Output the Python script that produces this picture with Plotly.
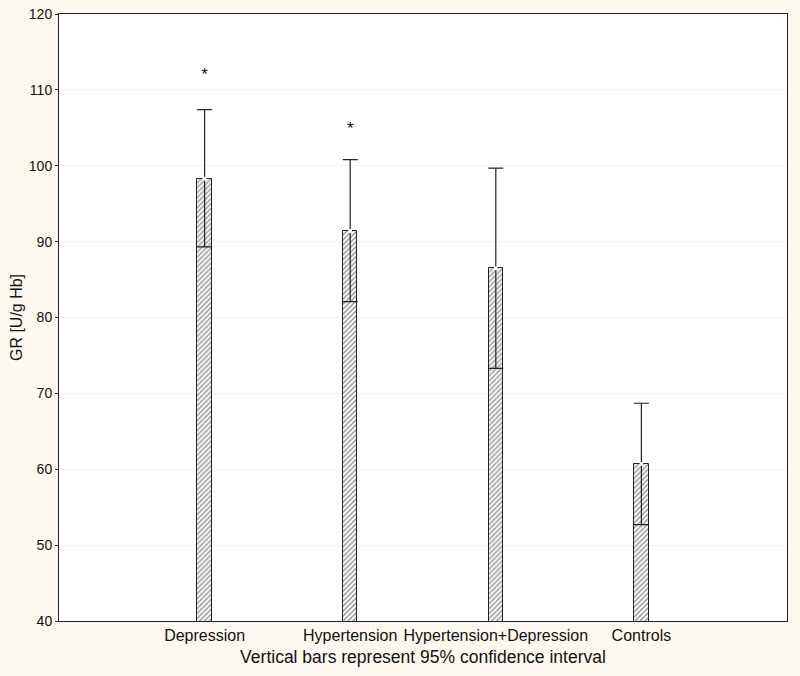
import plotly.graph_objects as go

categories = ["Depression", "Hypertension", "Hypertension+Depression", "Controls"]
means = [98.3, 91.4, 86.5, 60.7]
upper_ci = [107.4, 100.8, 99.7, 68.7]
lower_ci = [89.3, 82.1, 73.3, 52.7]
star_labels = ["*", "*", "", ""]
star_y = [111.9, 104.8, None, None]
y_ticks = [40, 50, 60, 70, 80, 90, 100, 110, 120]

xpos = list(range(len(categories)))
err_plus = [u - m for u, m in zip(upper_ci, means)]
err_minus = [m - l for m, l in zip(means, lower_ci)]

FONT = "Liberation Sans, Arial, sans-serif"

fig = go.Figure()
fig.add_trace(go.Bar(
    x=xpos, y=means, width=0.1,
    marker=dict(color="white", line=dict(color="#222222", width=1),
                pattern=dict(shape="/", fgcolor="#3a3a3a", bgcolor="white", size=3.5, solidity=0.45)),
    error_y=dict(type="data", symmetric=False, array=err_plus, arrayminus=err_minus,
                 color="#222222", thickness=1.2, width=7.5),
    showlegend=False, hoverinfo="skip",
))
fig.add_trace(go.Scatter(
    x=xpos, y=means, mode="markers",
    marker=dict(color="white", size=4, line=dict(width=0)),
    showlegend=False, hoverinfo="skip",
))
fig.add_trace(go.Scatter(
    x=xpos, y=star_y, mode="text", text=star_labels,
    textfont=dict(family=FONT, size=17, color="#111111"),
    showlegend=False, hoverinfo="skip",
))

fig.update_layout(
    width=800, height=676,
    margin=dict(l=59, r=13, t=14, b=55, autoexpand=False),
    paper_bgcolor="#FDF9F0", plot_bgcolor="white",
    font=dict(family=FONT, size=14, color="#111111"),
    xaxis=dict(range=[-1, 4], tickvals=xpos, ticktext=categories, showgrid=False,
               showline=True, linecolor="#222222", linewidth=1, mirror=True,
               ticks="", zeroline=False, tickfont=dict(size=16), automargin=False,
               title=dict(text="Vertical bars represent 95% confidence interval", standoff=7,
                          font=dict(size=17.5))),
    yaxis=dict(range=[40, 120], tickvals=y_ticks, showgrid=True, gridcolor="#F4F4F4",
               gridwidth=1, showline=True, linecolor="#222222", linewidth=1, mirror=True,
               ticks="outside", ticklen=3, tickcolor="#222222", zeroline=False,
               tickfont=dict(size=14), automargin=False,
               title=dict(text="GR [U/g Hb]", standoff=2, font=dict(size=16))),
    bargap=0,
)

post = ("document.body.style.margin='0';document.body.style.overflow='hidden';"
        "var gd=document.getElementById('{plot_id}');"
        "Plotly.relayout(gd,{width:800,height:676});")
fig.write_html("out.html", post_script=post, config={"displayModeBar": False})
